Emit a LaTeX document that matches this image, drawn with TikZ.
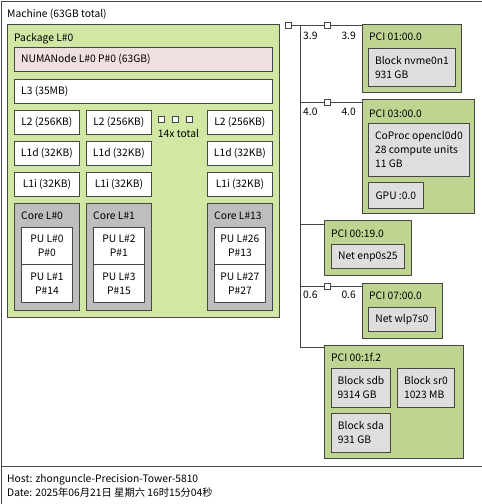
\documentclass[tikz,border=0pt]{standalone}
\usepackage{fontspec}
\setmainfont{Noto Sans CJK SC}
\definecolor{lnc}{RGB}{70,70,70}
\definecolor{pkgc}{RGB}{210,231,164}
\definecolor{numac}{RGB}{239,223,222}
\definecolor{corec}{RGB}{190,190,190}
\definecolor{pcic}{RGB}{192,212,146}
\definecolor{osc}{RGB}{222,222,222}
\tikzset{box/.style 2 args={draw=lnc,fill=white,line width=0.8pt,anchor=north west,inner sep=0pt,minimum width=#1,minimum height=#2,align=left}}
\tikzset{ttl/.style={anchor=base west,inner sep=0pt}}
\tikzset{bridge/.style={draw=lnc,fill=white,line width=0.8pt,minimum size=6,inner sep=0pt}}
\tikzset{link/.style={draw=lnc,line width=1pt}}

\begin{document}
\begin{tikzpicture}[x=1pt,y=-1pt,font=\fontsize{10.3}{14}\selectfont]
  \useasboundingbox (0,0) rectangle (482,504);
  \node[box={481}{465}] (mach) at (0.5,0.5) {};
  \node[box={481}{38}] (host) at (0.5,465.5) {};
  \node[ttl] (machT) at (7,17) {Machine (63GB total)};
  \node[ttl] (hostT) at (7,482) {Host: zhonguncle-Precision-Tower-5810};
  \node[ttl] (dateT) at (7,496) {Date: 2025年06月21日 星期六 16时15分04秒};

  \node[box={272}{293},fill=pkgc] (pkg) at (7,24) {};
  \node[ttl] (pkgT) at (14,41) {Package L\#0};
  \node[box={258}{24},fill=numac] (numa) at (14,47) {};
  \node[ttl] (numaT) at (21,62.5) {NUMANode L\#0 P\#0 (63GB)};
  \node[box={258}{24}] (l3) at (14,79) {};
  \node[ttl] (l3T) at (21,94.5) {L3 (35MB)};
  \foreach \x/\n in {14/a,86/b,207/c} {
    \node[box={65}{24}] (l2\n) at (\x,110) {L2 (256KB)};
    \node[box={65}{24}] (l1d\n) at (\x,141) {L1d (32KB)};
    \node[box={65}{24}] (l1i\n) at (\x,172) {L1i (32KB)};
  }
  \foreach \x/\n in {161/a,175/b,189/c}
    \node[bridge] (dot\n) at (\x,119.5) {};
  \node[anchor=base,inner sep=0pt] (more) at (178.5,137) {14x total};

  \foreach \x/\n/\c/\pa/\pb/\pc/\pd in {14/a/0/0/0/1/14,86/b/1/2/1/3/15,207/c/13/26/13/27/27} {
    \node[box={65}{107},fill=corec] (core\n) at (\x,203) {};
    \node[ttl] (core\n T) at (\x+7,219) {Core L\#\c};
    \node[box={51}{37},align=center] (pu\n1) at (\x+7,227) {PU L\#\pa\\P\#\pb};
    \node[box={51}{38},align=center] (pu\n2) at (\x+7,264) {PU L\#\pc\\P\#\pd};
  }

  \node[box={99}{68},fill=pcic] (p1) at (362,24) {};
  \node[ttl] (p1T) at (369,40) {PCI 01:00.0};
  \node[box={87}{38},fill=osc] (d1) at (368,48) {Block nvme0n1\\931 GB};
  \node[box={112}{114},fill=pcic] (p2) at (362,99) {};
  \node[ttl] (p2T) at (369,117) {PCI 03:00.0};
  \node[box={101}{53},fill=osc] (d2) at (368,123) {CoProc opencl0d0\\28 compute units\\11 GB};
  \node[box={55}{26},fill=osc] (d3) at (368,182) {GPU :0.0};
  \node[box={87}{55},fill=pcic] (p3) at (323.5,220) {};
  \node[ttl] (p3T) at (331,237.5) {PCI 00:19.0};
  \node[box={73}{24},fill=osc] (d4) at (331,244) {Net enp0s25};
  \node[box={80}{55},fill=pcic] (p4) at (362,283) {};
  \node[ttl] (p4T) at (369,299) {PCI 07:00.0};
  \node[box={67}{24},fill=osc] (d5) at (368,307) {Net wlp7s0};
  \node[box={139}{113},fill=pcic] (p5) at (323.5,345) {};
  \node[ttl] (p5T) at (331,361) {PCI 00:1f.2};
  \node[box={59}{39},fill=osc] (d6) at (331,368) {Block sdb\\9314 GB};
  \node[box={57}{39},fill=osc] (d7) at (397,368) {Block sr0\\1023 MB};
  \node[box={59}{39},fill=osc] (d8) at (331,413) {Block sda\\931 GB};

  \node[bridge] (hb) at (288,25) {};
  \node[bridge] (b1) at (327,25) {};
  \node[bridge] (b2) at (327,102) {};
  \node[bridge] (b4) at (327,286) {};
  \coordinate (t0) at (300,25);
  \coordinate (t1) at (300,102);
  \coordinate (t2) at (300,224);
  \coordinate (t3) at (300,286);
  \coordinate (t4) at (300,347);
  \draw[link] (hb) -- (b1);
  \draw[link] (b1) -- (p1.west |- b1);
  \draw[link] (t0) -- (t4) -- (p5.west |- t4);
  \draw[link] (t1) -- (b2);
  \draw[link] (b2) -- (p2.west |- b2);
  \draw[link] (t2) -- (p3.west |- t2);
  \draw[link] (t3) -- (b4);
  \draw[link] (b4) -- (p4.west |- b4);
  \foreach \y/\v in {39/3.9,115/4.0,298/0.6} {
    \node[ttl] at (303,\y) {\v};
    \node[anchor=base east,inner sep=0pt] at (356,\y) {\v};
  }
\end{tikzpicture}
\end{document}
